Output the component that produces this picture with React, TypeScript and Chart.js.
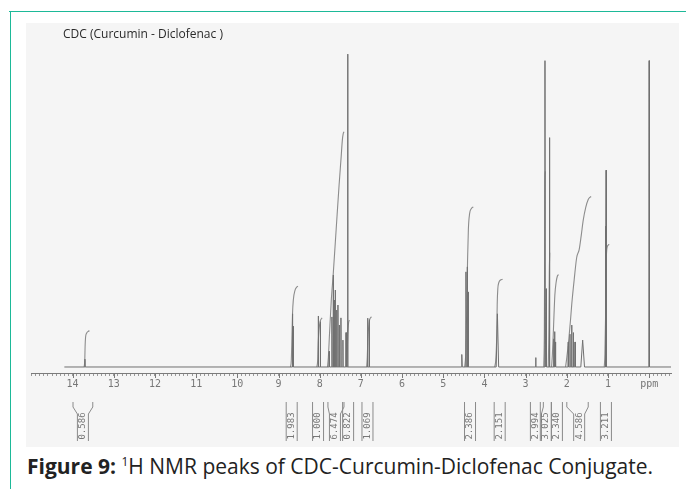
import React, { useEffect, useRef } from 'react';
import { Chart, registerables } from 'chart.js';

Chart.register(...registerables);

// ---------- data ----------
const chartTitle = 'CDC (Curcumin - Diclofenac )';

// axis: ppm, reversed
const ppmMin = -0.53;
const ppmMax = 15.01;
const majorTicks = [14, 13, 12, 11, 10, 9, 8, 7, 6, 5, 4, 3, 2, 1, 0];

// spectrum lines: position (ppm), height (relative intensity), half line width (ppm)
const peakPpm = [13.70, 8.665, 8.645, 8.035, 7.985, 7.77, 7.703, 7.671, 7.647, 7.623, 7.589, 7.557, 7.525, 7.484, 7.436, 7.36, 7.32, 6.836, 6.795, 4.55, 4.449, 4.417, 4.393, 3.685, 2.756, 2.53, 2.50, 2.42, 2.32, 2.30, 2.28, 1.965, 1.923, 1.882, 1.843, 1.80, 1.615, 1.065, 1.045, 0.0];
const peakHeight = [2.5, 17, 13, 16.3, 14.5, 5, 16, 29.4, 21.4, 24.6, 18.2, 19.8, 13.4, 15.7, 8.6, 11, 100, 15.6, 15.1, 4, 30.4, 32, 24, 17, 3, 97.9, 25, 73.3, 9, 11.3, 8, 8, 10.5, 13.4, 11, 8, 8.6, 45, 62.9, 97.9];
const peakHalfWidth = [0.006, 0.005, 0.005, 0.006, 0.006, 0.006, 0.005, 0.005, 0.005, 0.005, 0.005, 0.005, 0.005, 0.005, 0.005, 0.006, 0.005, 0.006, 0.006, 0.012, 0.005, 0.005, 0.005, 0.03, 0.008, 0.005, 0.006, 0.005, 0.008, 0.008, 0.008, 0.006, 0.006, 0.006, 0.006, 0.006, 0.045, 0.005, 0.005, 0.005];
const baselineStart = 14.2;
const baselineEnd = -0.53;

// integral traces [ppm, value]
const int137: number[][] = [[13.72, 0], [13.705, 2], [13.695, 7], [13.685, 9.5], [13.66, 10.8], [13.62, 11.4], [13.59, 11.6]];
const int865: number[][] = [[8.71, 0], [8.69, 2], [8.675, 9], [8.66, 17], [8.64, 21.5], [8.60, 24.5], [8.56, 25.5], [8.53, 25.8]];
const int803: number[][] = [[8.07, 0], [8.05, 2], [8.035, 8], [8.015, 12], [7.99, 14.5], [7.96, 15.4], [7.94, 15.7]];
const int760: number[][] = [[7.81, 0], [7.79, 3], [7.76, 11], [7.72, 21], [7.67, 30], [7.60, 44], [7.53, 58], [7.48, 67], [7.45, 72.5], [7.43, 74.5], [7.41, 75.2]];
const int732: number[][] = [[7.35, 0], [7.335, 3], [7.32, 10], [7.30, 14], [7.28, 15]];
const int681: number[][] = [[6.86, 0], [6.845, 3], [6.83, 9], [6.81, 13], [6.79, 15], [6.76, 15.8], [6.74, 16]];
const int440: number[][] = [[4.48, 0], [4.455, 4], [4.43, 18], [4.41, 34], [4.39, 44], [4.36, 49], [4.32, 50.6], [4.27, 51.2]];
const int368: number[][] = [[3.75, 0], [3.72, 3], [3.70, 11], [3.69, 20], [3.675, 25], [3.65, 27], [3.61, 27.8], [3.56, 28]];
const int253: number[][] = [[2.56, 0], [2.545, 12], [2.535, 45], [2.53, 60], [2.52, 62.5]];
const int242: number[][] = [[2.45, 0], [2.435, 12], [2.425, 30], [2.415, 36.5]];
const int230: number[][] = [[2.37, 0], [2.35, 4], [2.33, 10], [2.31, 17], [2.29, 23], [2.26, 27], [2.23, 29], [2.20, 29.5]];
const int180: number[][] = [[2.03, 0], [2.00, 3], [1.95, 9], [1.91, 15], [1.88, 20], [1.82, 28], [1.76, 35], [1.70, 37.5], [1.65, 42], [1.60, 47], [1.54, 51], [1.48, 53.5], [1.44, 54.2], [1.41, 54.5]];
const int105: number[][] = [[1.09, 0], [1.075, 4], [1.06, 15], [1.05, 28], [1.04, 35], [1.02, 38.3], [0.99, 39], [0.97, 39.2]];
const integralTraces = [int137, int865, int803, int760, int732, int681, int440, int368, int253, int242, int230, int180, int105];

// integration labels under the axis
const intLabels = ['0.586', '1.983', '1.000', '6.474', '0.822', '1.069', '2.386', '2.151', '2.994', '3.025', '2.340', '4.586', '3.211'];
const intCenter = [13.75, 8.68, 8.04, 7.63, 7.31, 6.84, 4.35, 3.63, 2.75, 2.51, 2.24, 1.70, 1.05];
const intFrom = [13.99, 8.74, 8.10, 7.80, 7.41, 6.90, 4.47, 3.75, 2.83, 2.55, 2.34, 2.00, 1.11];
const intTo = [13.51, 8.62, 7.98, 7.41, 7.21, 6.78, 4.23, 3.51, 2.57, 2.38, 2.12, 1.48, 0.99];

// ---------- helpers ----------
function buildSpectrum() {
  const pts: { x: number; y: number }[] = [{ x: baselineStart, y: 0 }];
  for (let i = 0; i < peakPpm.length; i++) {
    const p = peakPpm[i];
    const w = peakHalfWidth[i];
    pts.push({ x: p + w, y: 0 });
    pts.push({ x: p, y: peakHeight[i] });
    pts.push({ x: p - w, y: 0 });
  }
  pts.push({ x: baselineEnd, y: 0 });
  return pts;
}

const overlayPlugin = {
  id: 'nmrOverlay',
  afterDraw(chart: any) {
    const ctx = chart.ctx as CanvasRenderingContext2D;
    const xs = chart.scales.x;
    const axisY = chart.chartArea.bottom;
    ctx.save();
    // longer major ticks
    ctx.strokeStyle = '#7a7a7a';
    ctx.lineWidth = 1;
    ctx.beginPath();
    for (const v of majorTicks) {
      const x = Math.round(xs.getPixelForValue(v)) + 0.5;
      ctx.moveTo(x, axisY);
      ctx.lineTo(x, axisY + 5);
    }
    ctx.stroke();

    // title
    ctx.font = '12px "Open Sans"';
    ctx.fillStyle = '#2a2a2a';
    ctx.textAlign = 'left';
    ctx.textBaseline = 'middle';
    ctx.fillText(chartTitle, 37, 12);

    // integration brackets + labels
    const yTop = axisY + 29;
    const yFlare = yTop + 5;
    const yNarrow = yTop + 12;
    const yBot = axisY + 68;
    const half = 5.5;
    ctx.strokeStyle = '#8a8a8a';
    for (let i = 0; i < intLabels.length; i++) {
      const xc = xs.getPixelForValue(intCenter[i]);
      const xl = Math.min(xs.getPixelForValue(intFrom[i]), xc - half);
      const xr = Math.max(xs.getPixelForValue(intTo[i]), xc + half);
      ctx.beginPath();
      ctx.moveTo(xl, yTop);
      ctx.lineTo(xl, yFlare);
      ctx.lineTo(xc - half, yNarrow);
      ctx.lineTo(xc - half, yBot);
      ctx.moveTo(xr, yTop);
      ctx.lineTo(xr, yFlare);
      ctx.lineTo(xc + half, yNarrow);
      ctx.lineTo(xc + half, yBot);
      ctx.stroke();

      ctx.save();
      ctx.translate(xc, axisY + 53);
      ctx.rotate(-Math.PI / 2);
      ctx.font = '9px "DejaVu Sans Mono"';
      ctx.fillStyle = '#777';
      ctx.textAlign = 'center';
      ctx.textBaseline = 'middle';
      ctx.fillText(intLabels[i], 0, 0);
      ctx.restore();
    }
    ctx.restore();
  },
};

export default function App() {
  const canvasRef = useRef<HTMLCanvasElement | null>(null);

  useEffect(() => {
    if (!canvasRef.current) return;
    const datasets: any[] = [
      {
        label: 'spectrum',
        data: buildSpectrum(),
        borderColor: '#707070',
        borderWidth: 1,
        pointRadius: 0,
        showLine: true,
        tension: 0,
      },
      ...integralTraces.map((tr, i) => ({
        label: 'integral ' + i,
        data: tr.map(([x, y]) => ({ x, y })),
        borderColor: '#8c8c8c',
        borderWidth: 1.1,
        pointRadius: 0,
        showLine: true,
        cubicInterpolationMode: 'monotone',
      })),
    ];

    const chart = new Chart(canvasRef.current, {
      type: 'scatter',
      data: { datasets },
      plugins: [overlayPlugin],
      options: {
        animation: false,
        responsive: false,
        devicePixelRatio: 1,
        layout: { padding: { left: 5, right: 8, top: 17, bottom: 50 } },
        plugins: {
          legend: { display: false },
          tooltip: { enabled: false },
          title: { display: false },
        },
        scales: {
          x: {
            type: 'linear',
            reverse: true,
            min: ppmMin,
            max: ppmMax,
            afterFit: (s: any) => {
              s.height = 24;
            },
            border: { display: true, color: '#7a7a7a', width: 1 },
            grid: {
              drawOnChartArea: false,
              drawTicks: true,
              tickLength: 3,
              tickColor: '#999',
            },
            ticks: {
              stepSize: 0.1,
              autoSkip: false,
              includeBounds: false,
              maxRotation: 0,
              minRotation: 0,
              padding: 2,
              color: '#777',
              font: { family: '"DejaVu Sans Mono"', size: 10 },
              callback: (v: any) => {
                const n = Number(v);
                const r = Math.round(n);
                if (Math.abs(n - r) > 1e-6) return '';
                if (r > 14 || r < 0) return '';
                if (r === 0) return 'ppm';
                return String(r);
              },
            },
          },
          y: {
            display: false,
            min: -1.92,
            max: 104.5,
          },
        },
      },
    });
    return () => chart.destroy();
  }, []);

  return (
    <div
      style={{
        position: 'absolute',
        left: 0,
        top: 0,
        width: 686,
        height: 489,
        background: '#fff',
        overflow: 'hidden',
      }}
    >
      <div style={{ position: 'absolute', left: 9, top: 11, width: 677, height: 1, background: '#1db998' }} />
      <div style={{ position: 'absolute', left: 10, top: 11, width: 1, height: 478, background: '#1db998' }} />
      <div
        style={{
          position: 'absolute',
          left: 26,
          top: 23,
          width: 653,
          height: 424,
          background: '#f5f5f5',
        }}
      >
        <canvas ref={canvasRef} width={653} height={424} style={{ display: 'block', width: 653, height: 424 }} />
      </div>
      <div
        style={{
          position: 'absolute',
          left: 27,
          top: 456,
          fontFamily: '"Open Sans"',
          fontSize: 21,
          lineHeight: '21px',
          color: '#222',
          whiteSpace: 'nowrap',
        }}
      >
        <b>Figure 9:</b>{' '}
        <span style={{ fontSize: 12, position: 'relative', top: -8 }}>1</span>H NMR peaks of CDC-Curcumin-Diclofenac
        Conjugate.
      </div>
    </div>
  );
}
